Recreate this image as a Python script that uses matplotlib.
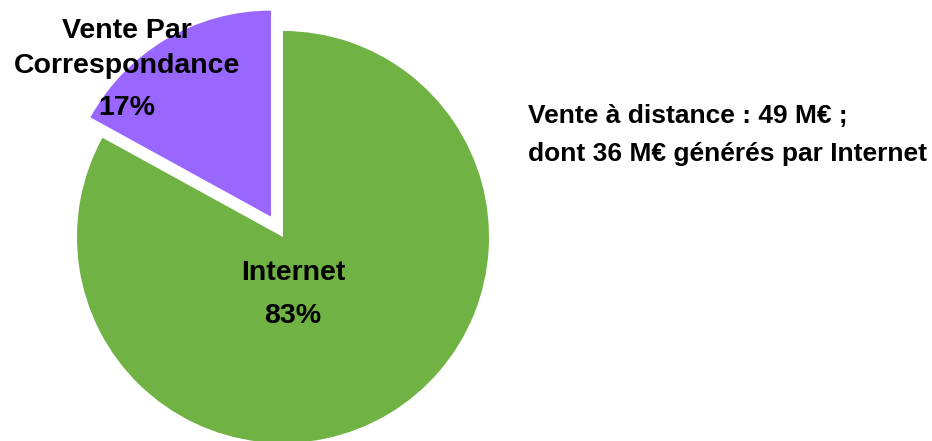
import matplotlib
matplotlib.use("Agg")
import matplotlib.pyplot as plt

# Répartition de la vente à distance
categories = ["Internet", "Vente Par\nCorrespondance"]
shares = [83, 17]
colors = ["#70B244", "#9966FF"]
explode = [0.0, 0.115]
note_lines = ["Vente à distance : 49 M€ ;", "dont 36 M€ générés par Internet"]

plt.rcParams["font.family"] = ["Liberation Sans", "DejaVu Sans"]

fig = plt.figure(figsize=(9.32, 4.41), dpi=100)
ax = fig.add_axes([0, 0, 1, 1])

ax.pie(shares, colors=colors, explode=explode, startangle=90,
       counterclock=False, radius=1.0, wedgeprops=dict(linewidth=0))

ax.set_xlim(-283 / 206, 649 / 206)
ax.set_ylim(-204 / 206, 237 / 206)
ax.set_aspect("equal", adjustable="box")
ax.axis("off")

# slice labels: category name lines followed by the percentage
label_pos = [
    (0.049, [-0.209, -0.417]),
    (-0.757, [0.966, 0.796, 0.592]),
]
for cat, val, (x, ys) in zip(categories, shares, label_pos):
    lines = cat.split("\n") + [f"{val}%"]
    for line, y in zip(lines, ys):
        ax.text(x, y, line, ha="center", va="baseline", fontsize=20.5,
                fontweight="bold", color="black")

for line, y in zip(note_lines, [0.552, 0.371]):
    ax.text(1.189, y, line, ha="left", va="baseline", fontsize=19,
            fontweight="bold", color="black")

fig.savefig("out.png", dpi=100)
